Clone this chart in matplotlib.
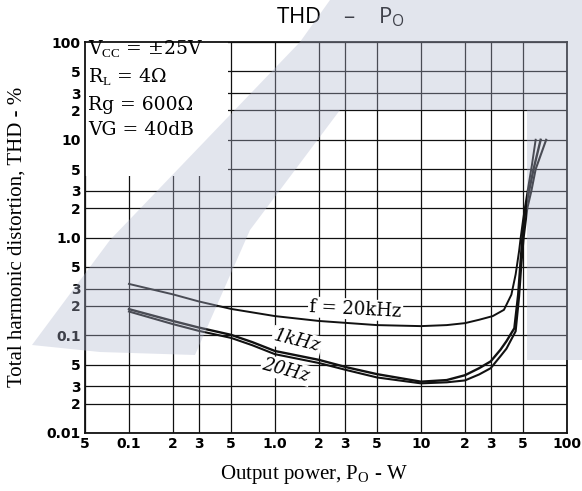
import matplotlib
matplotlib.use("Agg")
import matplotlib.pyplot as plt
from matplotlib.patches import Rectangle, Polygon


# Data (output power in W, THD in %)
p_20k = [0.1, 0.2, 0.3, 0.5, 1.0, 2.0, 5.0, 10, 15, 20, 25, 31, 37, 41.6, 44.5, 47, 48.2, 50, 52, 54.5, 57.5, 61]
thd_20k = [0.335, 0.262, 0.222, 0.186, 0.157, 0.14, 0.127, 0.124, 0.127, 0.133, 0.144, 0.157, 0.182, 0.26, 0.42, 0.73, 1.0, 1.5, 2.2, 3.4, 5.5, 10]

p_1k = [0.1, 0.2, 0.3, 0.5, 0.7, 1.0, 2.0, 3.1, 5.0, 10, 15, 20, 25, 30, 35, 38.5, 43.6, 46.3, 48, 49.5, 52, 55, 59, 66]
thd_1k = [0.185, 0.14, 0.12, 0.101, 0.085, 0.069, 0.056, 0.047, 0.04, 0.0335, 0.0348, 0.039, 0.046, 0.054, 0.071, 0.087, 0.118, 0.26, 0.55, 1.0, 2.0, 3.0, 5.0, 10]

p_20 = [0.1, 0.2, 0.3, 0.5, 0.7, 1.0, 2.0, 3.1, 5.0, 10, 15, 20, 25, 30, 35, 38.5, 44.5, 47, 48.8, 50.5, 53.5, 57, 61, 72]
thd_20 = [0.175, 0.13, 0.111, 0.094, 0.079, 0.064, 0.052, 0.044, 0.037, 0.0322, 0.033, 0.0345, 0.0397, 0.046, 0.061, 0.073, 0.11, 0.25, 0.55, 1.0, 2.0, 3.0, 5.0, 10]

x_ticks = [0.05, 0.1, 0.2, 0.3, 0.5, 1, 2, 3, 5, 10, 20, 30, 50, 100]
x_labels = ["5", "0.1", "2", "3", "5", "1.0", "2", "3", "5", "10", "2", "3", "5", "100"]
y_ticks = [0.01, 0.02, 0.03, 0.05, 0.1, 0.2, 0.3, 0.5, 1, 2, 3, 5, 10, 20, 30, 50, 100]
y_labels = ["0.01", "2", "3", "5", "0.1", "2", "3", "5", "1.0", "2", "3", "5", "10", "2", "3", "5", "100"]

conditions = ["V$_{\\rm CC}$ = \u00b125V", "R$_{\\rm L}$ = 4\u03a9", "Rg = 600\u03a9", "VG = 40dB"]


# Plot settings
plt.rcParams["mathtext.fontset"] = "custom"
plt.rcParams["mathtext.rm"] = "Liberation Serif"
plt.rcParams["mathtext.sf"] = "Open Sans"

W, H = 582, 491
fig = plt.figure(figsize=(W / 100, H / 100), dpi=100)
ax = fig.add_axes([85 / W, 1 - 433 / H, (567 - 85) / W, (433 - 42) / H])

ax.set_xscale("log")
ax.set_yscale("log")
ax.set_xlim(0.05, 100)
ax.set_ylim(0.01, 100)
ax.set_xticks(x_ticks)
ax.set_xticklabels(x_labels)
ax.set_yticks(y_ticks)
ax.set_yticklabels(y_labels)
ax.minorticks_off()
ax.tick_params(length=0, pad=3)
for lab in ax.get_xticklabels() + ax.get_yticklabels():
    lab.set_fontweight("bold")
    lab.set_fontsize(10)
ax.set_axisbelow(True)
ax.grid(True, color="#111111", lw=0.9)
for s in ax.spines.values():
    s.set_linewidth(1.3)
    s.set_color("#111111")

# blank area behind the conditions text
ax.add_patch(Rectangle((0.05, 4.3), 0.48 - 0.05, 100 - 4.3, fc="white", ec="none", zorder=1))

ax.plot(p_20k, thd_20k, color="#111111", lw=1.4, zorder=3)
ax.plot(p_1k, thd_1k, color="#111111", lw=1.7, zorder=3)
ax.plot(p_20, thd_20, color="#111111", lw=1.5, zorder=3)

lbl_box = dict(fc="white", ec="none", pad=1)
ax.text(3.56, 0.185, "f = 20kHz", family="DejaVu Serif", fontsize=13, rotation=-3,
        ha="center", va="center", bbox=lbl_box, zorder=4)
ax.text(1.41, 0.087, "1kHz", family="DejaVu Serif", style="italic", fontsize=13, rotation=-14,
        ha="center", va="center", bbox=lbl_box, zorder=4)
ax.text(1.19, 0.0438, "20Hz", family="DejaVu Serif", style="italic", fontsize=13, rotation=-15,
        ha="center", va="center", bbox=lbl_box, zorder=4)

for i, line in enumerate(conditions):
    y_px = [55, 83, 110, 135][i]
    fig.text(88 / W, 1 - y_px / H, line, family="DejaVu Serif", fontsize=13.5, va="baseline", ha="left")

fig.text(340 / W, 1 - 17 / H, "THD    \u2013    P$_{\\mathsf{O}}$", family="Open Sans", fontsize=16,
         ha="center", va="center")
fig.text(314 / W, 1 - 475 / H, "Output power, P$_{\\rm O}$ - W", family="Liberation Serif", fontsize=15,
         ha="center", va="center")
fig.text(17 / W, 1 - 237 / H, "Total harmonic distortion, THD - %", family="Liberation Serif", fontsize=15,
         rotation=90, ha="center", va="center")

# faint background mark laid over the sheet
mark = [(32, 345), (110, 240), (300, 42), (330, 0), (582, 0), (582, 360), (527, 360), (527, 110),
        (340, 110), (250, 230), (195, 355), (100, 352)]
fig.patches.append(Polygon([(x / W, 1 - y / H) for x, y in mark], closed=True, transform=fig.transFigure,
                           fc=(176 / 255, 183 / 255, 207 / 255), ec="none", alpha=0.36, zorder=10))

fig.savefig("out.png", dpi=100)
